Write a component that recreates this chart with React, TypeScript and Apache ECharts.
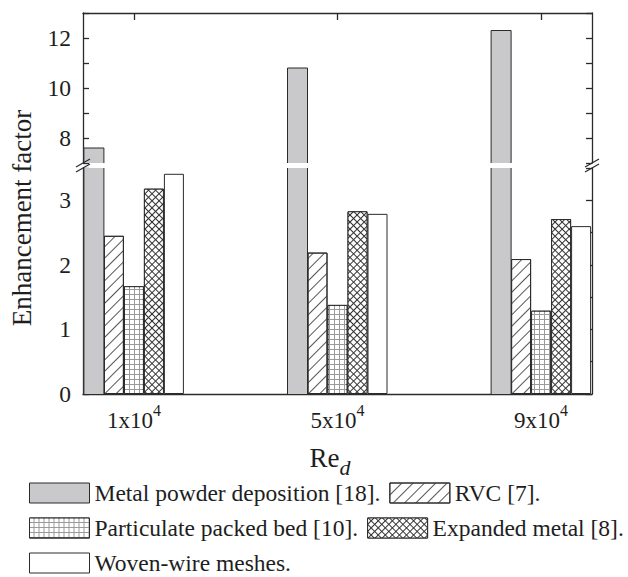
import React, { useEffect, useRef } from 'react';
import * as echarts from 'echarts';

// ---- data ----
const categories = ['1x10^4', '5x10^4', '9x10^4'];
const metalPowder = [7.6, 10.8, 12.3];
const rvc = [2.45, 2.19, 2.09];
const packedBed = [1.67, 1.38, 1.29];
const expandedMetal = [3.18, 2.83, 2.71];
const wovenWire = [3.41, 2.79, 2.6];
const seriesNames = [
  'Metal powder deposition [18].',
  'RVC [7].',
  'Particulate packed bed [10].',
  'Expanded metal [8].',
  'Woven-wire meshes.',
];
const lowerRange = { min: 0, max: 3.5, interval: 0.5 };
const upperRange = { min: 7, max: 13, interval: 1 };

// ---- styles ----
const FONT = 'Liberation Serif';
const AX = '#2b2b2b';
const TXT = '#1e1e1e';
const GRAY = '#c9c9cb';
const BAR_W = 20;

const slots = [categories[0], 'gap1', categories[1], 'gap2', categories[2]];

const grayRender = (params: any, api: any) => {
  const cs = params.coordSys;
  const idx = api.value(0);
  const v = api.value(1);
  const p = api.coord([idx, v]);
  const p0 = api.coord([idx, 0]);
  const x0 = p[0] - 2.5 * BAR_W;
  const gridTop = cs.y;
  const gridBottom = cs.y + cs.height;
  const clipped = p[1] < gridTop;
  const yTop = Math.max(p[1], gridTop);
  const yBot = Math.min(p0[1], gridBottom);
  const children: any[] = [
    { type: 'rect', shape: { x: x0, y: yTop, width: BAR_W, height: yBot - yTop }, style: { fill: GRAY } },
  ];
  if (clipped) {
    children.push({ type: 'line', shape: { x1: x0, y1: yTop, x2: x0, y2: yBot }, style: { stroke: AX, lineWidth: 1 } });
    children.push({ type: 'line', shape: { x1: x0 + BAR_W, y1: yTop, x2: x0 + BAR_W, y2: yBot }, style: { stroke: AX, lineWidth: 1 } });
  } else {
    children.push({
      type: 'polyline',
      shape: { points: [[x0, yBot], [x0, yTop], [x0 + BAR_W, yTop], [x0 + BAR_W, yBot]] },
      style: { stroke: AX, fill: 'none', lineWidth: 1 },
    });
  }
  return { type: 'group', children };
};

const fmtCat = (v: string) => {
  if (v.startsWith('gap')) return '';
  const [b, e] = v.split('^');
  return `{b|${b}}{s|${e}}`;
};

const lineStyle = { color: AX, width: 1.3 };

const makeX = (gridIndex: number, position: string, showLabel: boolean) => ({
  gridIndex,
  type: 'category',
  data: slots,
  position,
  boundaryGap: true,
  axisLine: { show: true, onZero: false, lineStyle },
  axisTick: {
    show: true,
    inside: true,
    length: 7,
    alignWithLabel: true,
    interval: (i: number) => i % 2 === 0,
    lineStyle,
  },
  axisLabel: {
    show: showLabel,
    interval: 0,
    margin: 8,
    formatter: fmtCat,
    rich: {
      b: { fontSize: 23, fontFamily: FONT, color: TXT, lineHeight: 36 },
      s: { fontSize: 16, fontFamily: FONT, color: TXT, verticalAlign: 'top' },
    },
  },
  splitLine: { show: false },
});

const makeY = (gridIndex: number, position: string, range: any, showLabel: boolean, fmt: (v: number) => string) => ({
  gridIndex,
  type: 'value',
  position,
  min: range.min,
  max: range.max,
  interval: range.interval,
  axisLine: { show: true, onZero: false, lineStyle },
  axisTick: { show: true, inside: true, length: 6, lineStyle },
  axisLabel: { show: showLabel, margin: 12, fontSize: 23.5, fontFamily: FONT, color: TXT, formatter: fmt },
  splitLine: { show: false },
});

const lowerFmt = (v: number) => (Number.isInteger(v) ? String(v) : '');
const upperFmt = (v: number) => (v % 2 === 0 ? String(v) : '');

const pairs = (vals: number[]) => categories.map((c, i) => [c, vals[i]]);

const barCommon = {
  type: 'bar',
  xAxisIndex: 0,
  yAxisIndex: 0,
  barWidth: BAR_W,
  barGap: '0%',
  clip: true,
};

export default function App() {
  const ref = useRef<HTMLDivElement>(null);
  useEffect(() => {
    if (!ref.current) return;
    const chart = echarts.init(ref.current, undefined, { renderer: 'svg' });
    const legendCommon = {
      left: 29,
      orient: 'horizontal',
      icon: 'rect',
      itemWidth: 60,
      itemHeight: 20,
      itemGap: 9,
      padding: 0,
      selectedMode: false,
      textStyle: { fontSize: 23.5, fontFamily: FONT, color: TXT, lineHeight: 20 },
      itemStyle: { borderColor: AX, borderWidth: 1 },
    };
    chart.setOption({
      animation: false,
      backgroundColor: '#fff',
      textStyle: { fontFamily: FONT },
      grid: [
        { left: 83, top: 168, width: 509, height: 226, containLabel: false, outerBoundsMode: 'none' },
        { left: 83, top: 13, width: 509, height: 150, containLabel: false, outerBoundsMode: 'none' },
      ],
      xAxis: [
        {
          ...makeX(0, 'bottom', true),
          name: '{a|Re}{b|d}',
          nameLocation: 'middle',
          nameGap: 44,
          nameTextStyle: {
            padding: [0, 15, 0, 0],
            rich: {
              a: { fontSize: 27, fontFamily: FONT, color: TXT, lineHeight: 40 },
              b: { fontSize: 22, fontFamily: FONT, fontStyle: 'italic', color: TXT, verticalAlign: 'bottom' },
            },
          },
        },
        makeX(1, 'top', false),
      ],
      yAxis: [
        makeY(0, 'left', lowerRange, true, lowerFmt),
        makeY(0, 'right', lowerRange, false, lowerFmt),
        makeY(1, 'left', upperRange, true, upperFmt),
        makeY(1, 'right', upperRange, false, upperFmt),
      ],
      legend: [
        { ...legendCommon, top: 481, data: [seriesNames[0], seriesNames[1]] },
        { ...legendCommon, top: 516, data: [seriesNames[2], seriesNames[3]] },
        { ...legendCommon, top: 551, data: [seriesNames[4]] },
      ],
      series: [
        { ...barCommon, name: '__slot', data: [], silent: true },
        {
          ...barCommon,
          name: seriesNames[1],
          data: pairs(rvc),
          itemStyle: {
            color: '#fff',
            borderColor: AX,
            borderWidth: 1,
            decal: { symbol: 'rect', symbolSize: 1, color: '#555', dashArrayX: [1, 0], dashArrayY: [1, 7], rotation: -Math.PI / 4 },
          },
        },
        {
          ...barCommon,
          name: seriesNames[2],
          data: pairs(packedBed),
          itemStyle: {
            color: '#9a9a9a',
            borderColor: AX,
            borderWidth: 1,
            decal: { symbol: 'rect', symbolSize: 1, color: '#fff', dashArrayX: [4, 1], dashArrayY: [4, 1] },
          },
        },
        {
          ...barCommon,
          name: seriesNames[3],
          data: pairs(expandedMetal),
          itemStyle: {
            color: '#333',
            borderColor: AX,
            borderWidth: 1,
            decal: { symbol: 'rect', symbolSize: 1, color: '#fff', dashArrayX: [4, 1], dashArrayY: [4, 1], rotation: Math.PI / 4 },
          },
        },
        {
          ...barCommon,
          name: seriesNames[4],
          data: pairs(wovenWire),
          itemStyle: { color: '#fff', borderColor: AX, borderWidth: 1 },
        },
        {
          type: 'custom',
          name: seriesNames[0],
          xAxisIndex: 0,
          yAxisIndex: 0,
          renderItem: grayRender,
          itemStyle: { color: GRAY, borderColor: AX, borderWidth: 1 },
          encode: { x: 0, y: 1 },
          data: pairs(metalPowder),
          z: 3,
        },
        {
          type: 'custom',
          name: seriesNames[0],
          xAxisIndex: 1,
          yAxisIndex: 2,
          renderItem: grayRender,
          itemStyle: { color: GRAY, borderColor: AX, borderWidth: 1 },
          encode: { x: 0, y: 1 },
          data: pairs(metalPowder),
          z: 3,
        },
      ],
      graphic: [
        {
          type: 'text',
          x: 22,
          y: 218,
          rotation: Math.PI / 2,
          style: {
            text: 'Enhancement factor',
            fontSize: 27,
            fontFamily: FONT,
            fill: TXT,
            align: 'center',
            verticalAlign: 'middle',
            textAlign: 'center',
            textVerticalAlign: 'middle',
          },
        },
        { type: 'line', shape: { x1: 76, y1: 167, x2: 90, y2: 159 }, style: { stroke: AX, lineWidth: 1.3 }, z: 10 },
        { type: 'line', shape: { x1: 76, y1: 172, x2: 90, y2: 164 }, style: { stroke: AX, lineWidth: 1.3 }, z: 10 },
        { type: 'line', shape: { x1: 585, y1: 167, x2: 599, y2: 159 }, style: { stroke: AX, lineWidth: 1.3 }, z: 10 },
        { type: 'line', shape: { x1: 585, y1: 172, x2: 599, y2: 164 }, style: { stroke: AX, lineWidth: 1.3 }, z: 10 },
      ],
    });
    return () => chart.dispose();
  }, []);
  return <div ref={ref} style={{ position: 'fixed', left: 0, top: 0, width: 628, height: 577 }} />;
}
